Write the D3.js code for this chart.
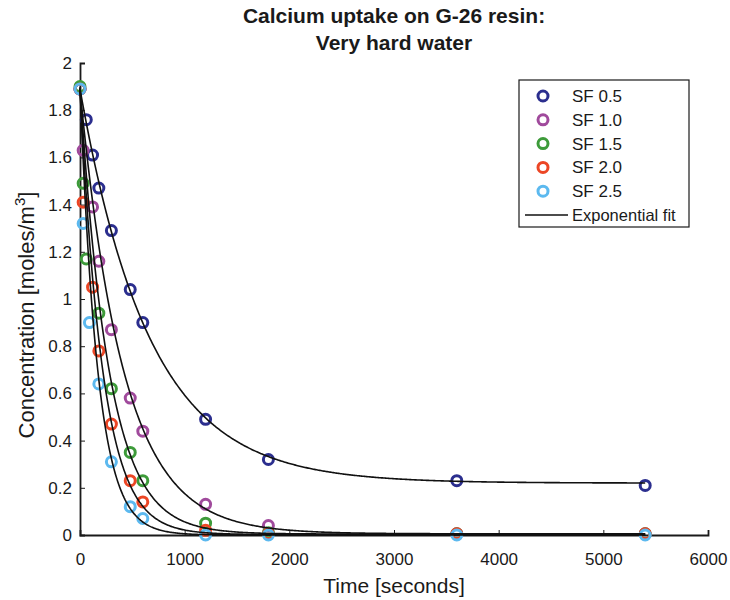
<!DOCTYPE html>
<html>
<head>
<meta charset="utf-8">
<script src="https://cdn.jsdelivr.net/npm/d3@7"></script>
<style>
	body { margin: 0; background: #fff; }
	text { font-family: "Liberation Sans", Arial, sans-serif; fill: #1a1a1a; }
</style>
</head>
<body>
<svg></svg>
<script>
const size = { w: 730, h: 600 };
const margin = { t: 63, r: 22, b: 65, l: 80 };

// data
const seriesNames = ["SF 0.5", "SF 1.0", "SF 1.5", "SF 2.0", "SF 2.5"];
const seriesColors = ["#2b2e8e", "#a04a9c", "#3d9b3a", "#ec4625", "#5cb9ef"];

const timeSF05 = [0, 60, 120, 180, 300, 480, 600, 1200, 1800, 3600, 5400];
const concSF05 = [1.89, 1.76, 1.61, 1.47, 1.29, 1.04, 0.9, 0.49, 0.32, 0.23, 0.21];
const timeSF10 = [0, 30, 120, 180, 300, 480, 600, 1200, 1800, 3600, 5400];
const concSF10 = [1.89, 1.63, 1.39, 1.16, 0.87, 0.58, 0.44, 0.13, 0.04, 0.005, 0.005];
const timeSF15 = [0, 30, 60, 180, 300, 480, 600, 1200, 1800, 3600, 5400];
const concSF15 = [1.9, 1.49, 1.17, 0.94, 0.62, 0.35, 0.23, 0.05, 0.01, 0.005, 0.005];
const timeSF20 = [0, 30, 120, 180, 300, 480, 600, 1200, 1800, 3600, 5400];
const concSF20 = [1.89, 1.41, 1.05, 0.78, 0.47, 0.23, 0.14, 0.02, 0.005, 0.005, 0.005];
const timeSF25 = [0, 30, 90, 180, 300, 480, 600, 1200, 1800, 3600, 5400];
const concSF25 = [1.89, 1.32, 0.9, 0.64, 0.31, 0.12, 0.07, 0.0, 0.0, 0.0, 0.0];

// exponential fit parameters: C(t) = a * exp(-k t) + c
const fitA = [1.67, 1.88, 1.89, 1.89, 1.9];
const fitK = [0.0015, 0.0024, 0.0036, 0.0046, 0.0059];
const fitC = [0.22, 0.005, 0.004, 0.002, 0.0];
const fitTimes = d3.range(0, 5401, 10);

const xTicks = [0, 1000, 2000, 3000, 4000, 5000, 6000];
const yTicks = [0, 0.2, 0.4, 0.6, 0.8, 1, 1.2, 1.4, 1.6, 1.8, 2];

const times = [timeSF05, timeSF10, timeSF15, timeSF20, timeSF25];
const concs = [concSF05, concSF10, concSF15, concSF20, concSF25];
const series = seriesNames.map((name, i) => ({
	name: name,
	color: seriesColors[i],
	points: times[i].map((t, j) => ({ t: t, c: concs[i][j] })),
	fit: fitTimes.map((t) => ({ t: t, c: fitA[i] * Math.exp(-fitK[i] * t) + fitC[i] }))
}));

const svg = d3.select("svg").attr("width", size.w).attr("height", size.h);

const xScale = d3.scaleLinear().domain([0, 6000]).range([margin.l, size.w - margin.r]);
const yScale = d3.scaleLinear().domain([0, 2]).range([size.h - margin.b, margin.t]);

// axes, ticks pointing inward like matlab
const xAxis = d3.axisBottom(xScale).tickValues(xTicks).tickSizeInner(-5).tickSizeOuter(-5).tickPadding(18).tickFormat(d3.format("d"));
const yAxis = d3.axisLeft(yScale).tickValues(yTicks).tickSizeInner(-5).tickSizeOuter(-5).tickPadding(8).tickFormat((d) => d3.format("~g")(d));

const xAxisG = svg.append("g")
	.attr("transform", `translate(0, ${size.h - margin.b})`)
	.call(xAxis);
const yAxisG = svg.append("g")
	.attr("transform", `translate(${margin.l}, 0)`)
	.call(yAxis);

[xAxisG, yAxisG].forEach((g) => {
	g.select(".domain").attr("stroke", "#1a1a1a").attr("stroke-width", 1.8);
	g.selectAll(".tick line").attr("stroke", "#1a1a1a").attr("stroke-width", 1);
	g.selectAll(".tick text").attr("font-size", 17).attr("fill", "#1a1a1a").attr("font-family", "Liberation Sans, Arial, sans-serif");
});

// markers
series.forEach((s) => {
	svg.append("g")
		.selectAll("circle")
		.data(s.points)
		.join("circle")
		.attr("cx", (d) => xScale(d.t))
		.attr("cy", (d) => yScale(d.c))
		.attr("r", 5)
		.attr("fill", "none")
		.attr("stroke", s.color)
		.attr("stroke-width", 3);
});

// exponential fits on top
const line = d3.line().x((d) => xScale(d.t)).y((d) => yScale(d.c));
series.forEach((s) => {
	svg.append("path")
		.datum(s.fit)
		.attr("d", line)
		.attr("fill", "none")
		.attr("stroke", "#111")
		.attr("stroke-width", 1.6);
});

// title
const titleX = (margin.l + size.w - margin.r) / 2;
svg.append("text")
	.attr("x", titleX).attr("y", 23)
	.attr("text-anchor", "middle")
	.attr("font-size", 21).attr("font-weight", "bold")
	.text("Calcium uptake on G-26 resin:");
svg.append("text")
	.attr("x", titleX).attr("y", 50)
	.attr("text-anchor", "middle")
	.attr("font-size", 21).attr("font-weight", "bold")
	.text("Very hard water");

// axis labels
svg.append("text")
	.attr("x", titleX).attr("y", 593)
	.attr("text-anchor", "middle")
	.attr("font-size", 21)
	.text("Time [seconds]");

const yLabel = svg.append("text")
	.attr("transform", "translate(34, 315) rotate(-90)")
	.attr("text-anchor", "middle")
	.attr("font-size", 22);
yLabel.append("tspan").text("Concentration [moles/m");
yLabel.append("tspan").attr("font-size", 15).attr("dy", -9).text("3");
yLabel.append("tspan").attr("dy", 9).text("]");

// legend
const legend = svg.append("g").attr("transform", "translate(519, 80)");
legend.append("rect")
	.attr("width", 170).attr("height", 147)
	.attr("fill", "#fff").attr("stroke", "#1a1a1a").attr("stroke-width", 1.2);
seriesNames.forEach((name, i) => {
	legend.append("circle")
		.attr("cx", 24).attr("cy", 16 + i * 23.8)
		.attr("r", 5)
		.attr("fill", "none")
		.attr("stroke", seriesColors[i])
		.attr("stroke-width", 3);
	legend.append("text")
		.attr("x", 53).attr("y", 22 + i * 23.8)
		.attr("font-size", 17)
		.text(name);
});
legend.append("line")
	.attr("x1", 6).attr("x2", 49)
	.attr("y1", 135).attr("y2", 135)
	.attr("stroke", "#111").attr("stroke-width", 1.5);
legend.append("text")
	.attr("x", 53).attr("y", 141)
	.attr("font-size", 16.5)
	.text("Exponential fit");
</script>
</body>
</html>
